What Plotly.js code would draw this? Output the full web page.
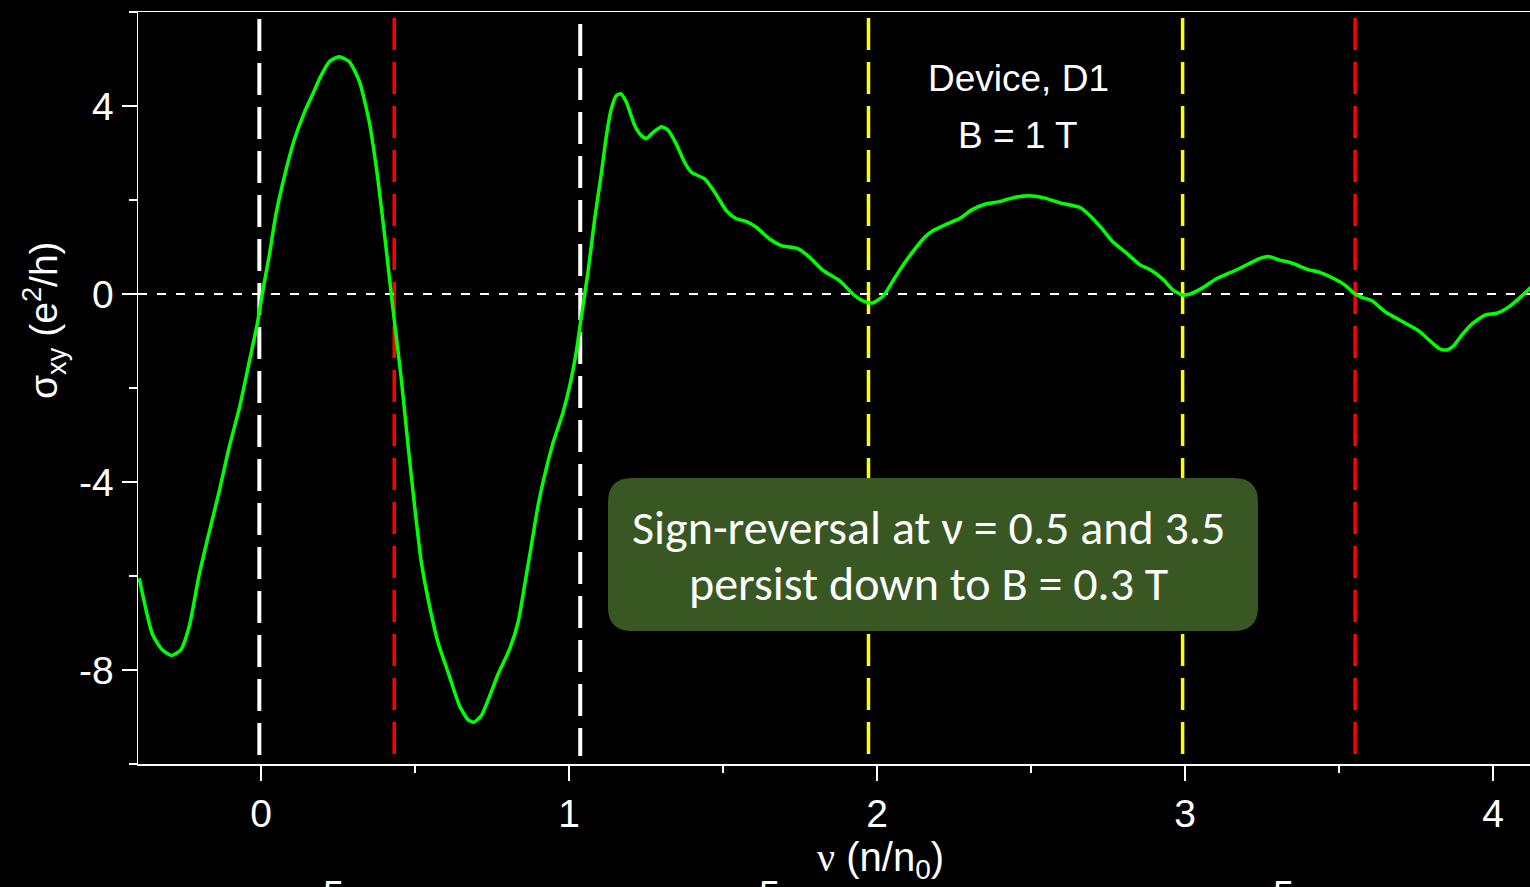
<!DOCTYPE html>
<html>
<head>
<meta charset="utf-8">
<script src="https://cdn.plot.ly/plotly-3.0.1.min.js"></script>
<style>
  html, body { margin: 0; padding: 0; background: #000; }
  #chart { width: 1530px; height: 887px; }
</style>
</head>
<body>
<div id="chart"></div>
<script>
// Filling factor nu = n/n0 and Hall conductivity sigma_xy (e^2/h), device D1 at B = 1 T
const nu = [
  -0.396, -0.353, -0.321, -0.291, -0.261, -0.234, -0.201, -0.169, -0.136, -0.104,
  -0.071, -0.039, -0.012, 0.004, 0.026, 0.048, 0.075, 0.107, 0.140, 0.167,
  0.194, 0.221, 0.253, 0.286, 0.318, 0.351, 0.378, 0.405, 0.427, 0.433,
  0.455, 0.477, 0.498, 0.520, 0.542, 0.574, 0.607, 0.644, 0.672, 0.690,
  0.715, 0.742, 0.769, 0.807, 0.834, 0.855, 0.877, 0.899, 0.920, 0.948,
  0.980, 1.002, 1.023, 1.040, 1.061, 1.083, 1.105, 1.121, 1.137, 1.153,
  1.167, 1.186, 1.213, 1.235, 1.251, 1.273, 1.300, 1.322, 1.348, 1.375,
  1.397, 1.440, 1.473, 1.511, 1.543, 1.576, 1.608, 1.651, 1.689, 1.744,
  1.781, 1.825, 1.879, 1.928, 1.960, 1.985, 2.020, 2.058, 2.090, 2.123,
  2.155, 2.182, 2.220, 2.269, 2.307, 2.350, 2.394, 2.437, 2.491, 2.545,
  2.594, 2.659, 2.697, 2.729, 2.767, 2.810, 2.854, 2.886, 2.930, 2.960,
  2.992, 3.016, 3.054, 3.103, 3.162, 3.206, 3.243, 3.271, 3.308, 3.346,
  3.400, 3.433, 3.476, 3.519, 3.552, 3.574, 3.606, 3.650, 3.682, 3.726,
  3.758, 3.801, 3.828, 3.850, 3.872, 3.899, 3.931, 3.974, 4.012, 4.050,
  4.082, 4.126
];
const sigmaXY = [
  -6.05, -7.24, -7.57, -7.69, -7.57, -7.08, -5.96, -5.07, -4.19, -3.26,
  -2.43, -1.45, -0.61, 0.03, 0.81, 1.70, 2.49, 3.27, 3.86, 4.25,
  4.64, 4.94, 5.05, 4.94, 4.54, 3.66, 2.49, 1.01, -0.27, -0.60,
  -1.81, -3.23, -4.50, -5.71, -6.49, -7.41, -8.05, -8.76, -9.06, -9.11,
  -8.97, -8.55, -8.09, -7.55, -6.99, -6.21, -5.36, -4.50, -3.87, -3.16,
  -2.52, -1.95, -1.24, -0.46, 0.46, 1.60, 2.59, 3.37, 3.94, 4.22,
  4.26, 4.08, 3.58, 3.37, 3.31, 3.44, 3.56, 3.48, 3.19, 2.80,
  2.59, 2.45, 2.16, 1.77, 1.60, 1.54, 1.42, 1.17, 1.03, 0.96,
  0.78, 0.50, 0.28, -0.04, -0.16, -0.19, -0.04, 0.35, 0.67, 0.96,
  1.21, 1.35, 1.47, 1.61, 1.79, 1.91, 1.96, 2.04, 2.09, 2.04,
  1.94, 1.84, 1.63, 1.40, 1.10, 0.87, 0.62, 0.52, 0.30, 0.09,
  -0.02, 0.00, 0.12, 0.33, 0.50, 0.64, 0.76, 0.80, 0.72, 0.66,
  0.52, 0.47, 0.35, 0.19, 0.00, -0.07, -0.14, -0.38, -0.50, -0.66,
  -0.78, -1.03, -1.17, -1.19, -1.10, -0.87, -0.64, -0.45, -0.41, -0.28,
  -0.11, 0.16
];

// Marker lines at integer and half-integer filling
const whiteLines = [-0.006, 1.036];
const redLines = [0.432, 3.552];
const yellowLines = [1.972, 2.992];

// Axis ticks
const xTickVals = [0, 1, 2, 3, 4];
const xTickText = ['0', '1', '2', '3', '4'];
const yTickVals = [-8, -4, 0, 4];
const yTickText = ['-8', '-4', '0', '4'];

const W = 1530, H = 887;
const M = { l: 138, r: 0, t: 12, b: 123 };
const pw = W - M.l - M.r, ph = H - M.t - M.b;
const px = x => (x - M.l) / pw;          // pixel -> paper x
const py = y => (H - M.b - y) / ph;      // pixel -> paper y

function roundedRect(x0, y0, x1, y1, r) {
  return 'M' + px(x0 + r) + ',' + py(y0) +
    ' L' + px(x1 - r) + ',' + py(y0) +
    ' Q' + px(x1) + ',' + py(y0) + ' ' + px(x1) + ',' + py(y0 + r) +
    ' L' + px(x1) + ',' + py(y1 - r) +
    ' Q' + px(x1) + ',' + py(y1) + ' ' + px(x1 - r) + ',' + py(y1) +
    ' L' + px(x0 + r) + ',' + py(y1) +
    ' Q' + px(x0) + ',' + py(y1) + ' ' + px(x0) + ',' + py(y1 - r) +
    ' L' + px(x0) + ',' + py(y0 + r) +
    ' Q' + px(x0) + ',' + py(y0) + ' ' + px(x0 + r) + ',' + py(y0) + ' Z';
}

const FONT = 'Liberation Sans, Arial, sans-serif';
const DASH_V = '32px,12px';

function vline(x, color, top, width) {
  return {
    type: 'line', xref: 'x', yref: 'paper', layer: 'below',
    x0: x, x1: x, y0: py(top), y1: py(756),
    line: { color: color, width: width, dash: DASH_V }
  };
}

const shapes = [];
whiteLines.forEach((v, i) => shapes.push(vline(v, '#ffffff', i === 0 ? 19 : 24, 4)));
redLines.forEach(v => shapes.push(vline(v, '#ff0000', 18, 3.5)));
yellowLines.forEach(v => shapes.push(vline(v, '#ffff00', 18, 3.5)));
shapes.push({
  type: 'line', xref: 'paper', yref: 'y', layer: 'below',
  x0: 0, x1: 1, y0: 0, y1: 0,
  line: { color: '#ffffff', width: 2, dash: '9px,10px' }
});
shapes.push({
  type: 'path', xref: 'paper', yref: 'paper', layer: 'above',
  path: roundedRect(608, 478, 1258, 631, 24),
  fillcolor: '#385723', line: { width: 0 }
});

const BOX_FONT = { family: 'Carlito, Calibri, Lato, sans-serif', size: 48, color: '#ffffff' };
const LABEL_FONT = { family: FONT, size: 37, color: '#ffffff' };

function note(text, x, y, font, extra) {
  return Object.assign({
    text: text, xref: 'paper', yref: 'paper', x: px(x), y: py(y),
    xanchor: 'center', yanchor: 'middle', showarrow: false, font: font
  }, extra || {});
}

const annotations = [
  note('Device, D1', 1018, 79, LABEL_FONT),
  note('B = 1 T', 1018, 135, LABEL_FONT),
  note('Sign-reversal at ν = 0.5 and 3.5', 928, 527, BOX_FONT),
  note('persist down to B = 0.3 T', 928, 583, BOX_FONT),
  // axis titles
  note('σ<sub>xy</sub> (e<sup>2</sup>/h)', 44, 320,
    { family: FONT, size: 39, color: '#ffffff' }, { textangle: -90 }),
  note('<span style="font-family:Liberation Serif, Times New Roman, serif">ν</span> (n/n<sub>0</sub>)',
    880, 860, { family: FONT, size: 40, color: '#ffffff' })
];
// tick labels of the panel below, cut by the page edge
[333, 769, 1283].forEach(x => annotations.push(
  note('5', x, 872, { family: FONT, size: 38, color: '#ffffff' }, { yanchor: 'top' })
));

const trace = {
  x: nu, y: sigmaXY, type: 'scatter', mode: 'lines',
  line: { color: '#00ff00', width: 3.5, shape: 'spline', smoothing: 0.6 },
  hoverinfo: 'skip'
};

const TICK_FONT = { family: FONT, size: 39, color: '#ffffff' };

const layout = {
  width: W, height: H,
  margin: M,
  paper_bgcolor: '#000000', plot_bgcolor: '#000000',
  showlegend: false,
  font: { family: FONT, color: '#ffffff', size: 36 },
  xaxis: {
    range: [-0.4, 4.12],
    tickmode: 'array', tickvals: xTickVals, ticktext: xTickText,
    ticks: 'outside', ticklen: 15, tickwidth: 1.5, tickcolor: '#ffffff',
    minor: { dtick: 0.5, tick0: 0, ticks: 'outside', ticklen: 7, tickwidth: 1.5, tickcolor: '#ffffff' },
    showline: true, linecolor: '#ffffff', linewidth: 1.5, mirror: true,
    showgrid: false, zeroline: false,
    tickfont: TICK_FONT
  },
  yaxis: {
    range: [-10, 6],
    tickmode: 'array', tickvals: yTickVals, ticktext: yTickText,
    ticks: 'outside', ticklen: 15, tickwidth: 1.5, tickcolor: '#ffffff',
    minor: { dtick: 2, tick0: 0, ticks: 'outside', ticklen: 8, tickwidth: 1.5, tickcolor: '#ffffff' },
    showline: true, linecolor: '#ffffff', linewidth: 1.5,
    showgrid: false, zeroline: false,
    tickfont: TICK_FONT
  },
  shapes: shapes,
  annotations: annotations
};

Plotly.newPlot('chart', [trace], layout, { displayModeBar: false, staticPlot: true });
</script>
</body>
</html>
